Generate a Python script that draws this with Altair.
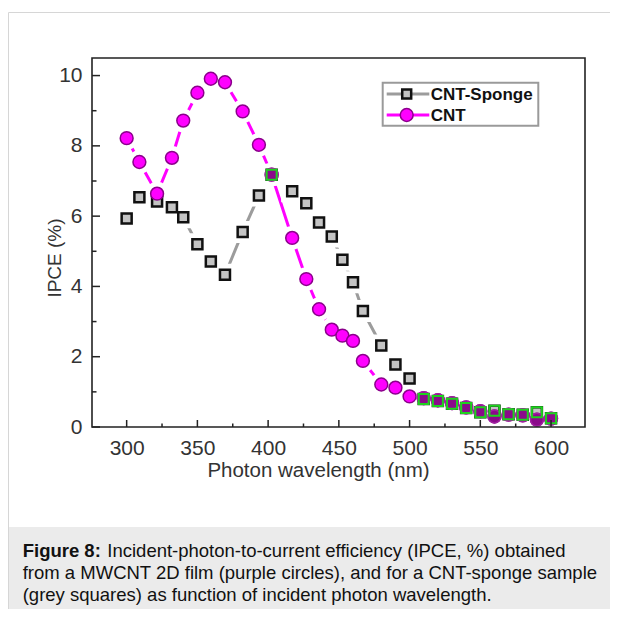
import altair as alt
import pandas as pd

# ---- data ----
wavelength = [300, 309, 321.5, 332, 340, 350, 359.5, 369.5, 382, 393.5, 402.5, 417, 427, 436, 445,
              452.5, 460, 467, 480, 490, 500, 510, 520, 530, 540, 550, 560, 570, 580, 590, 600]
cnt = [8.22, 7.54, 6.64, 7.66, 8.72, 9.51, 9.91, 9.81, 8.98, 8.03, 7.18, 5.38, 4.21, 3.35, 2.77,
       2.6, 2.45, 1.88, 1.21, 1.12, 0.87, 0.82, 0.76, 0.68, 0.56, 0.45, 0.30, 0.35, 0.33, 0.21, 0.24]
sponge = [5.93, 6.54, 6.42, 6.25, 5.97, 5.2, 4.71, 4.33, 5.55, 6.59, 7.18, 6.71, 6.37, 5.82, 5.42,
          4.76, 4.12, 3.30, 2.32, 1.78, 1.38, 0.80, 0.74, 0.66, 0.54, 0.42, 0.46, 0.36, 0.35, 0.42, 0.25]
overlap = [402.5, 510, 520, 530, 540, 550, 560, 570, 580, 590, 600]
x_ticks = [300, 350, 400, 450, 500, 550, 600]
x_minor = [325, 375, 425, 475, 525, 575]
y_ticks = [0, 2, 4, 6, 8, 10]
y_minor = [1, 3, 5, 7, 9]
series_names = ["CNT-Sponge", "CNT"]
caption_bold = "Figure 8:"
caption_lines = [
    "Incident-photon-to-current efficiency (IPCE, %) obtained",
    "from a MWCNT 2D film (purple circles), and for a CNT-sponge sample",
    "(grey squares) as function of incident photon wavelength.",
]
x_title = "Photon wavelength (nm)"
y_title = "IPCE (%)"

F = "Liberation Sans, Arial, Helvetica, sans-serif"
W, H = 493, 369

df = pd.DataFrame({"wl": wavelength, "cnt": cnt, "sponge": sponge})
dov = df[df["wl"].isin(overlap)]
one = pd.DataFrame({"k": [0]})

xscale = alt.Scale(domain=[275.5, 624], nice=False, zero=False)
yscale = alt.Scale(domain=[0, 10.5], nice=False, zero=False)
xaxis = alt.Axis(values=x_ticks, tickSize=0, labelPadding=10, labelFontSize=21, labelFont=F,
                 labelColor="#333", domain=False, grid=False, title=x_title, titleFont=F,
                 titleFontSize=20.5, titleFontWeight="normal", titleColor="#333", titleX=226,
                 titleY=49, titleAlign="center", titleBaseline="alphabetic", format="d",
                 labelFlush=False, labelOverlap=False)
yaxis = alt.Axis(values=y_ticks, tickSize=0, labelPadding=10, labelFontSize=21, labelFont=F,
                 labelColor="#333", domain=False, grid=False, title=y_title, titleFont=F,
                 titleFontSize=19, titleFontWeight="normal", titleColor="#333", titleX=-38,
                 titleY=199.5, titleAngle=270, titleAlign="center", titleBaseline="middle",
                 format="d", labelFlush=False, labelOverlap=False)


def X(f):
    return alt.X(f + ":Q", scale=xscale, axis=xaxis)


def Y(f):
    return alt.Y(f + ":Q", scale=yscale, axis=yaxis)


base = alt.Chart(df)

# figure frame and caption background
cap_bg = alt.Chart(one).mark_rect(fill="#ebebeb").encode(
    x=alt.value(-84), x2=alt.value(540), y=alt.value(469), y2=alt.value(560))
frame = alt.Chart(one).mark_rect(fillOpacity=0, stroke="#d6d6d6", strokeWidth=1).encode(
    x=alt.value(-83.5), x2=alt.value(560), y=alt.value(-45.5), y2=alt.value(600))

line_s = base.mark_line(color="#9c9c9c", strokeWidth=3).encode(x=X("wl"), y=Y("sponge"))
line_c = base.mark_line(color="#ff00ff", strokeWidth=3).encode(x=X("wl"), y=Y("cnt"))
halo_s = base.mark_point(shape="square", filled=True, fill="white", stroke="white",
                         size=400, opacity=1).encode(x=X("wl"), y=Y("sponge"))
halo_c = base.mark_point(shape="circle", filled=True, fill="white", stroke="white",
                         size=470, opacity=1).encode(x=X("wl"), y=Y("cnt"))
pts_s = base.mark_point(shape="square", filled=True, fill="#c4c4c4", stroke="#111111",
                        strokeWidth=2.5, size=100, opacity=1).encode(x=X("wl"), y=Y("sponge"))
pts_c = base.mark_point(shape="circle", filled=True, fill="#ff00ff", stroke="#8b008b",
                        strokeWidth=1.5, size=165, opacity=1).encode(x=X("wl"), y=Y("cnt"))
ov_c = alt.Chart(dov).mark_point(shape="circle", filled=True, fill="#8a0a8a", stroke="#a020a0",
                                 strokeWidth=1.5, size=165, opacity=1).encode(x=X("wl"), y=Y("cnt"))
ov_s = alt.Chart(dov).mark_point(shape="square", filled=False, stroke="#1ed21e",
                                 strokeWidth=2, size=100, opacity=1).encode(x=X("wl"), y=Y("sponge"))

# plot frame drawn explicitly
plot_frame = alt.Chart(one).mark_rect(fillOpacity=0, stroke="#222222", strokeWidth=1.6).encode(
    x=alt.value(0), x2=alt.value(W), y=alt.value(0), y2=alt.value(H))

# inward ticks
txm = alt.Chart(pd.DataFrame({"t": x_ticks})).mark_rule(color="#222", strokeWidth=1.5).encode(
    x=X("t"), y=alt.value(H), y2=alt.value(H - 7))
txn = alt.Chart(pd.DataFrame({"t": x_minor})).mark_rule(color="#222", strokeWidth=1.5).encode(
    x=X("t"), y=alt.value(H), y2=alt.value(H - 3.5))
tym = alt.Chart(pd.DataFrame({"t": y_ticks})).mark_rule(color="#222", strokeWidth=1.5).encode(
    y=Y("t"), x=alt.value(0), x2=alt.value(8))
tyn = alt.Chart(pd.DataFrame({"t": y_minor})).mark_rule(color="#222", strokeWidth=1.5).encode(
    y=Y("t"), x=alt.value(0), x2=alt.value(4.5))

# legend
leg_box = alt.Chart(one).mark_rect(fill="white", stroke="#9a9a9a", strokeWidth=2).encode(
    x=alt.value(290.7), x2=alt.value(446.3), y=alt.value(24.7), y2=alt.value(67.7))
leg_l1 = alt.Chart(one).mark_rule(color="#9c9c9c", strokeWidth=3).encode(
    x=alt.value(294.7), x2=alt.value(337.3), y=alt.value(36))
leg_l2 = alt.Chart(one).mark_rule(color="#ff00ff", strokeWidth=3).encode(
    x=alt.value(294.7), x2=alt.value(337.3), y=alt.value(57))
leg_p1 = alt.Chart(one).mark_point(shape="square", filled=True, fill="#c4c4c4", stroke="#111111",
                                   strokeWidth=2.5, size=80, opacity=1).encode(
    x=alt.value(314.7), y=alt.value(36))
leg_p2 = alt.Chart(one).mark_point(shape="circle", filled=True, fill="#ff00ff", stroke="#8b008b",
                                   strokeWidth=1.5, size=165, opacity=1).encode(
    x=alt.value(314.7), y=alt.value(57))
leg_t1 = alt.Chart(one).mark_text(font=F, fontSize=17, fontWeight="bold", color="#111",
                                  align="left", baseline="middle").encode(
    x=alt.value(338.7), y=alt.value(36.5), text=alt.value(series_names[0]))
leg_t2 = alt.Chart(one).mark_text(font=F, fontSize=17, fontWeight="bold", color="#111",
                                  align="left", baseline="middle").encode(
    x=alt.value(338.7), y=alt.value(57.5), text=alt.value(series_names[1]))

# caption
cap0 = alt.Chart(one).mark_text(font=F, fontSize=18.5, fontWeight="bold", color="#111",
                                align="left", baseline="alphabetic").encode(
    x=alt.value(-69.3), y=alt.value(499.3), text=alt.value(caption_bold))
cap1 = alt.Chart(one).mark_text(font=F, fontSize=18.5, color="#111", align="left",
                                baseline="alphabetic").encode(
    x=alt.value(15.3), y=alt.value(499.3), text=alt.value(caption_lines[0]))
cap2 = alt.Chart(one).mark_text(font=F, fontSize=18.5, color="#111", align="left",
                                baseline="alphabetic").encode(
    x=alt.value(-69.3), y=alt.value(521.3), text=alt.value(caption_lines[1]))
cap3 = alt.Chart(one).mark_text(font=F, fontSize=18.5, color="#111", align="left",
                                baseline="alphabetic").encode(
    x=alt.value(-69.3), y=alt.value(543), text=alt.value(caption_lines[2]))

chart = alt.layer(
    cap_bg, frame, line_s, line_c, halo_s, halo_c, pts_s, pts_c, ov_c, ov_s, plot_frame,
    txm, txn, tym, tyn, leg_box, leg_l1, leg_l2, leg_p1, leg_p2, leg_t1, leg_t2,
    cap0, cap1, cap2, cap3,
).properties(
    width=W, height=H,
    autosize=alt.AutoSizeParams(type="none"),
    padding={"left": 84, "top": 50, "right": 25, "bottom": 182},
    background="white",
).configure_view(strokeWidth=0)

chart.save("out.html", embed_options={"renderer": "svg", "actions": False})
